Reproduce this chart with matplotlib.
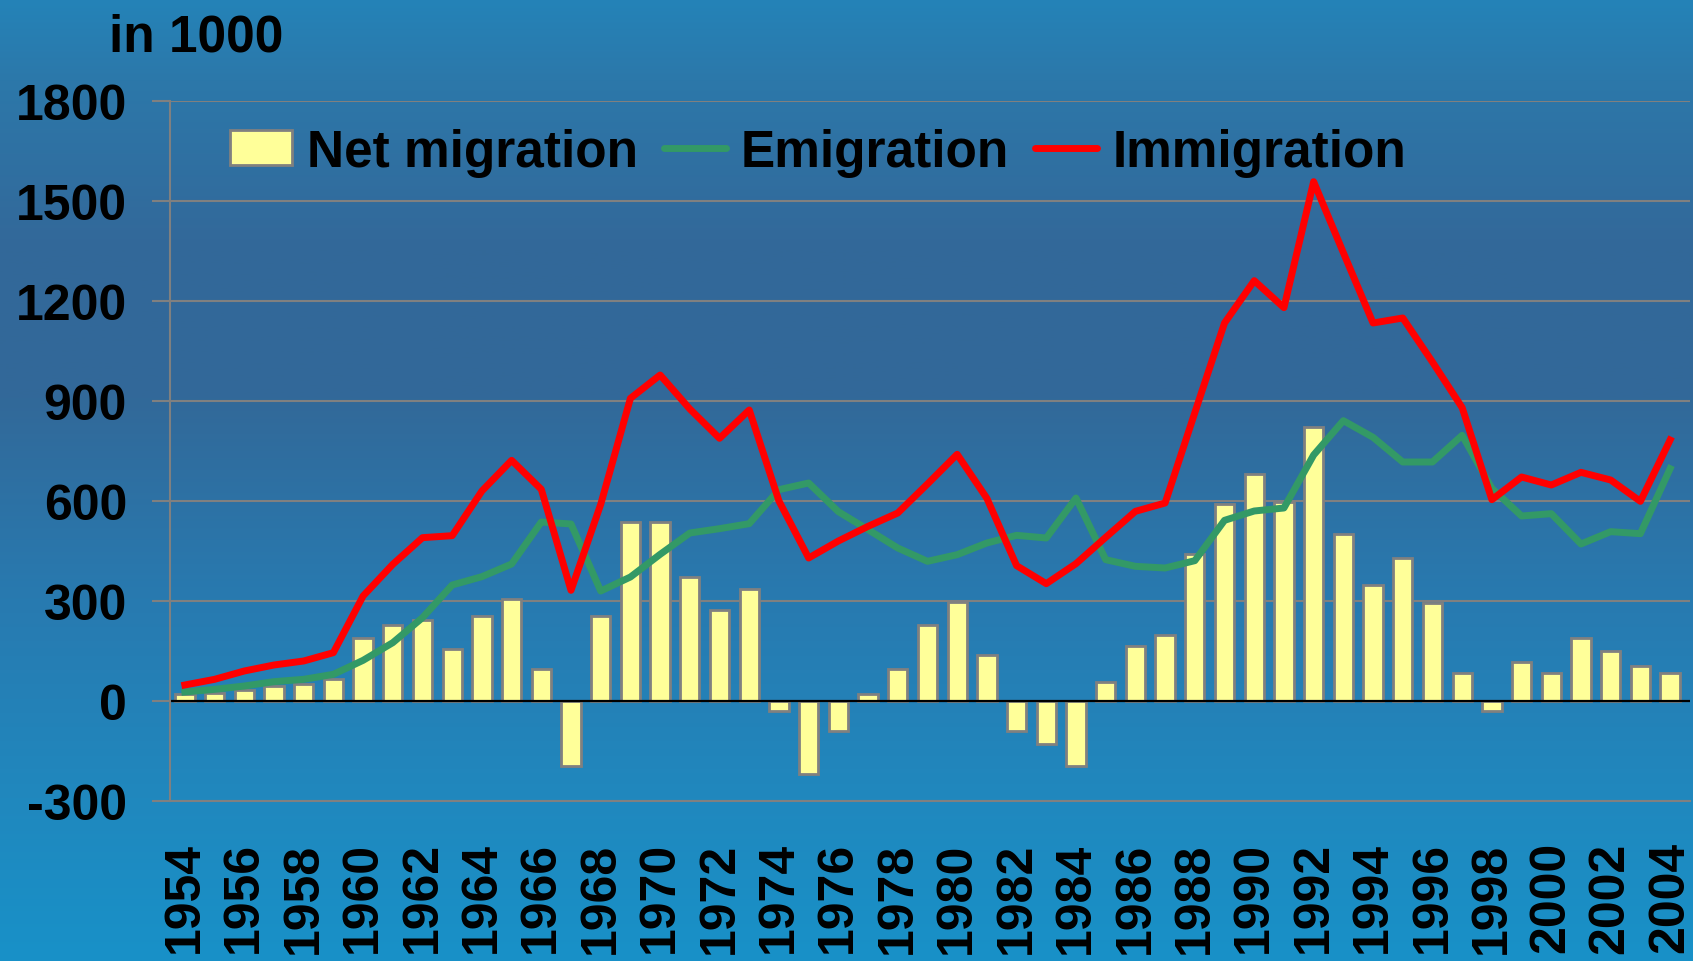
import numpy as np
import matplotlib
matplotlib.use('Agg')
import matplotlib.pyplot as plt
from matplotlib.patches import Patch
from matplotlib.lines import Line2D

plt.rcParams['font.family'] = ['Liberation Sans', 'DejaVu Sans']
plt.rcParams['font.weight'] = 'bold'

years = list(range(1954, 2005))

net_migration = [20, 25, 32, 45, 52, 65,
                 190, 228, 242, 155, 254, 306, 97, -195, 254, 538,
                 538, 371, 272, 337, -30, -220, -90, 20, 97, 228,
                 297, 137, -90, -130, -195, 58, 164, 197, 440, 591,
                 682, 598, 821, 502, 347, 430, 294, 83, -31, 118,
                 84, 188, 149, 105, 84]

emigration = [27, 35, 45, 58, 65, 80,
              122, 175, 250, 348, 373, 411, 537, 531, 330, 372,
              440, 504, 517, 532, 634, 654, 568, 514, 459, 419,
              439, 474, 497, 489, 609, 424, 404, 399, 421, 542,
              570, 579, 738, 841, 791, 717, 717, 797, 638, 555,
              562, 471, 508, 502, 697]

immigration = [48, 65, 90, 108, 120, 145,
               315, 410, 490, 496, 630, 722, 635, 332, 590, 908,
               978, 876, 788, 873, 600, 429, 480, 524, 564, 651,
               740, 608, 406, 352, 412, 491, 569, 594, 865, 1134,
               1261, 1180, 1558, 1345, 1134, 1149, 1017, 880, 604, 672,
               648, 686, 663, 599, 783]

y_ticks = [-300, 0, 300, 600, 900, 1200, 1500, 1800]

W, H = 1693, 962
fig = plt.figure(figsize=(W / 100, H / 100), dpi=100)

# background gradient (top -> bottom)
stops_y = np.array([0, 80, 250, 400, 600, 800, 962]) / H
stops_c = np.array([(36, 131, 184), (44, 120, 170), (51, 104, 153), (50, 105, 153),
                    (40, 122, 176), (32, 136, 190), (24, 145, 200)]) / 255.0
yy = np.linspace(0, 1, 400)
grad = np.stack([np.interp(yy, stops_y, stops_c[:, k]) for k in range(3)], axis=-1)
grad = np.repeat(grad[:, None, :], 2, axis=1)
bg = fig.add_axes([0, 0, 1, 1], zorder=-1)
bg.imshow(grad, aspect='auto', extent=[0, 1, 0, 1])
bg.axis('off')

left, right = 170 / W, 1690 / W
top, bottom = 1 - 102 / H, 1 - 802 / H
ax = fig.add_axes([left, bottom, right - left, top - bottom])
ax.set_facecolor('none')

x = np.arange(len(years))
ax.bar(x, net_migration, width=0.65, color='#FFFF99', edgecolor='#808080',
       linewidth=2, zorder=2)
ax.axhline(0, color='black', lw=1.6, zorder=2.5)
ax.plot(x, emigration, color='#339966', lw=5, zorder=3)
ax.plot(x, immigration, color='#FF0000', lw=5, zorder=4)

ax.set_xlim(-0.5, len(years) - 0.33)
ax.set_ylim(-300, 1800)
ax.set_yticks(y_ticks)
ax.set_yticklabels([str(v) for v in y_ticks], fontsize=36, fontweight='bold')
ax.yaxis.grid(True, color='#808080', lw=1.5)
ax.set_axisbelow(True)

ax.set_xticks(x[::2])
ax.set_xticklabels([str(y) for y in years[::2]], rotation=90, fontsize=36,
                   fontweight='bold')
ax.tick_params(axis='x', length=0, pad=29)
ax.tick_params(axis='y', length=13, width=1.5, color='#808080', pad=18)

for s in ['top', 'right']:
    ax.spines[s].set_visible(False)
ax.spines['left'].set_color('#808080')
ax.spines['left'].set_linewidth(1.5)
ax.spines['bottom'].set_color('#808080')
ax.spines['bottom'].set_linewidth(1.5)

fig.text(109 / W, 1 - 52 / H, 'in 1000', fontsize=37, fontweight='bold',
         ha='left', va='baseline')

handles = [Patch(facecolor='#FFFF99', edgecolor='#808080', linewidth=2),
           Line2D([], [], color='#339966', lw=5, solid_capstyle='round'),
           Line2D([], [], color='#FF0000', lw=5, solid_capstyle='round')]
leg = fig.legend(handles, ['Net migration', 'Emigration', 'Immigration'],
                 loc='center left', bbox_to_anchor=(230 / W, 1 - 153 / H),
                 ncol=3, frameon=False, borderpad=0, borderaxespad=0,
                 handlelength=1.2, handleheight=0.65, handletextpad=0.3,
                 columnspacing=0.5, prop={'size': 37, 'weight': 'bold'})

fig.savefig('out.png', dpi=100)
